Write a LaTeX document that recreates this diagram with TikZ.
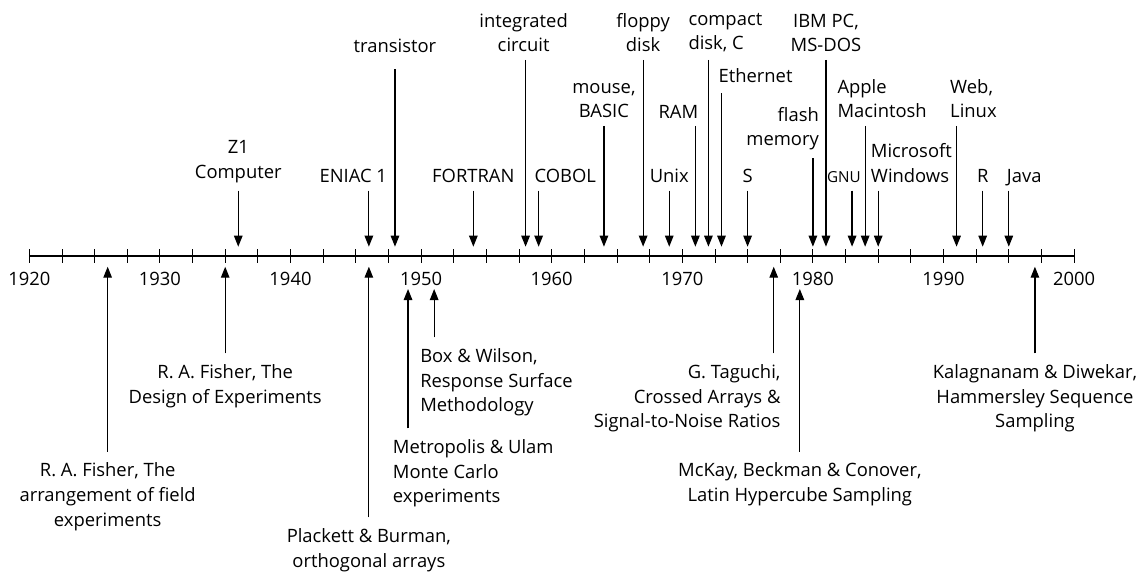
\documentclass[tikz,border=0pt]{standalone}
\usepackage{fontspec}
\setmainfont{Open Sans}
\usetikzlibrary{arrows.meta}

\begin{document}
\begin{tikzpicture}[x=13.06pt, y=1pt,
        font=\fontsize{18.4}{24.7}\selectfont,
        pointer/.style={line width=1.2pt, -{Triangle[length=11pt,width=8.5pt]}},
        milestone/.style={anchor=south, align=center, inner xsep=0pt, inner ysep=7.7pt},
        method/.style={anchor=north, align=center, inner xsep=0pt, inner ysep=11pt},
        yearlbl/.style={anchor=base, inner sep=0pt}]
        \useasboundingbox (-29.3pt,-317pt) rectangle (1114.7pt,256pt);

        % axis 1920--2000
        \draw[line width=1.1pt] (0,0) -- (80,0);
        \foreach \t in {0,2.5,...,80}
            \draw[line width=0.9pt] (\t,-6.7) -- (\t,6.7);
        \foreach \d [evaluate=\d as \yr using int(1920+\d)] in {0,10,...,80}
            \node[yearlbl] (y\yr) at (\d,-29) {\yr};

        % arrow tips
        \foreach \yr in {1936,1946,1948,1954,1958,1959,1964,1967,1969,1971,1972,1973,1975,1980,1981,1983,1984,1985,1991,1993,1995}
            \coordinate (a\yr) at (\yr-1920,9.3);
        \foreach \yr in {1926,1935,1946,1977,1997}
            \coordinate (b\yr) at (\yr-1920,-10.7);
        \foreach \yr in {1949,1951,1979}
            \coordinate (b\yr) at (\yr-1920,-33);

        % computing, above the axis
        \node[milestone] (z1) at (16,65.3) {Z1\\Computer};
        \draw[pointer] (z1.south -| a1936) -- (a1936);
        \node[milestone, anchor=south east] (eniac) at (27.4,65.3) {ENIAC 1};
        \draw[pointer] (eniac.south -| a1946) -- (a1946);
        \node[milestone, inner ysep=16pt] (transistor) at (28,186.7) {transistor};
        \draw[pointer] (transistor.south -| a1948) -- (a1948);
        \node[milestone] (fortran) at (34,65.3) {FORTRAN};
        \draw[pointer] (fortran.south -| a1954) -- (a1954);
        \node[milestone] (ic) at (37.85,196) {integrated\\circuit};
        \draw[pointer] (ic.south -| a1958) -- (a1958);
        \node[milestone, anchor=south west] (cobol) at (38.67,65.3) {COBOL};
        \draw[pointer] (cobol.south -| a1959) -- (a1959);
        \node[milestone] (mouse) at (44,130) {mouse,\\BASIC};
        \draw[pointer] (mouse.south -| a1964) -- (a1964);
        \node[milestone] (floppy) at (47,196) {floppy\\disk};
        \draw[pointer] (floppy.south -| a1967) -- (a1967);
        \node[milestone] (unix) at (49,65.3) {Unix};
        \draw[pointer] (unix.south -| a1969) -- (a1969);
        \node[milestone, anchor=south east] (ram) at (51.23,130) {RAM};
        \draw[pointer] (ram.south -| a1971) -- (a1971);
        \node[milestone, anchor=south west, align=left] (cd) at (50.46,196) {compact\\disk, C};
        \draw[pointer] (cd.south -| a1972) -- (a1972);
        \node[milestone, anchor=south west, inner ysep=10pt] (ethernet) at (52.76,162.7) {Ethernet};
        \draw[pointer] (ethernet.south -| a1973) -- (a1973);
        \node[milestone] (s) at (55,65.3) {S};
        \draw[pointer] (s.south -| a1975) -- (a1975);
        \node[milestone, anchor=south east, align=right] (flash) at (60.47,97.7) {flash\\memory};
        \draw[pointer] (flash.south -| a1980) -- (a1980);
        \node[milestone] (ibmpc) at (61,196) {IBM PC,\\MS-DOS};
        \draw[pointer] (ibmpc.south -| a1981) -- (a1981);
        \node[milestone, anchor=south east, font=\fontsize{15.2}{18}\selectfont] (gnu) at (63.68,65.3) {GNU};
        \draw[pointer] (gnu.south -| a1983) -- (a1983);
        \node[milestone, anchor=south west, align=left] (mac) at (61.87,130) {Apple\\Macintosh};
        \draw[pointer] (mac.south -| a1984) -- (a1984);
        \node[milestone, anchor=south west, align=left] (windows) at (64.43,65.3) {Microsoft\\Windows};
        \draw[pointer] (windows.south -| a1985) -- (a1985);
        \node[milestone, anchor=south west, align=left] (web) at (70.5,130) {Web,\\Linux};
        \draw[pointer] (web.south -| a1991) -- (a1991);
        \node[milestone] (r) at (73,65.3) {R};
        \draw[pointer] (r.south -| a1993) -- (a1993);
        \node[milestone, anchor=south west, text depth=0pt] (java) at (74.84,65.3) {Java};
        \draw[pointer] (java.south -| a1995) -- (a1995);

        % design of experiments, below the axis
        \node[method] (fisher26) at (6,-195.7) {R. A. Fisher, The\\arrangement of field\\experiments};
        \draw[pointer] (fisher26.north -| b1926) -- (b1926);
        \node[method] (fisher35) at (15,-97.3) {R. A. Fisher, The\\Design of Experiments};
        \draw[pointer] (fisher35.north -| b1935) -- (b1935);
        \node[method] (plackett) at (26,-261.3) {Plackett \& Burman,\\orthogonal arrays};
        \draw[pointer] (plackett.north -| b1946) -- (b1946);
        \node[method, anchor=north west, align=left] (metropolis) at (27.83,-172.3) {Metropolis \& Ulam\\Monte Carlo\\experiments};
        \draw[pointer] (metropolis.north -| b1949) -- (b1949);
        \node[method, anchor=north west, align=left] (box) at (29.92,-81.3) {Box \& Wilson,\\Response Surface\\Methodology};
        \draw[pointer] (box.north -| b1951) -- (b1951);
        \node[method, anchor=north east, align=right] (taguchi) at (57.53,-97.3) {G. Taguchi,\\Crossed Arrays \&\\Signal-to-Noise Ratios};
        \draw[pointer] (taguchi.north -| b1977) -- (b1977);
        \node[method] (mckay) at (59,-195.7) {McKay, Beckman \& Conover,\\Latin Hypercube Sampling};
        \draw[pointer] (mckay.north -| b1979) -- (b1979);
        \node[method] (kalagnanam) at (77,-97.3) {Kalagnanam \& Diwekar,\\Hammersley Sequence\\Sampling};
        \draw[pointer] (kalagnanam.north -| b1997) -- (b1997);
\end{tikzpicture}
\end{document}
